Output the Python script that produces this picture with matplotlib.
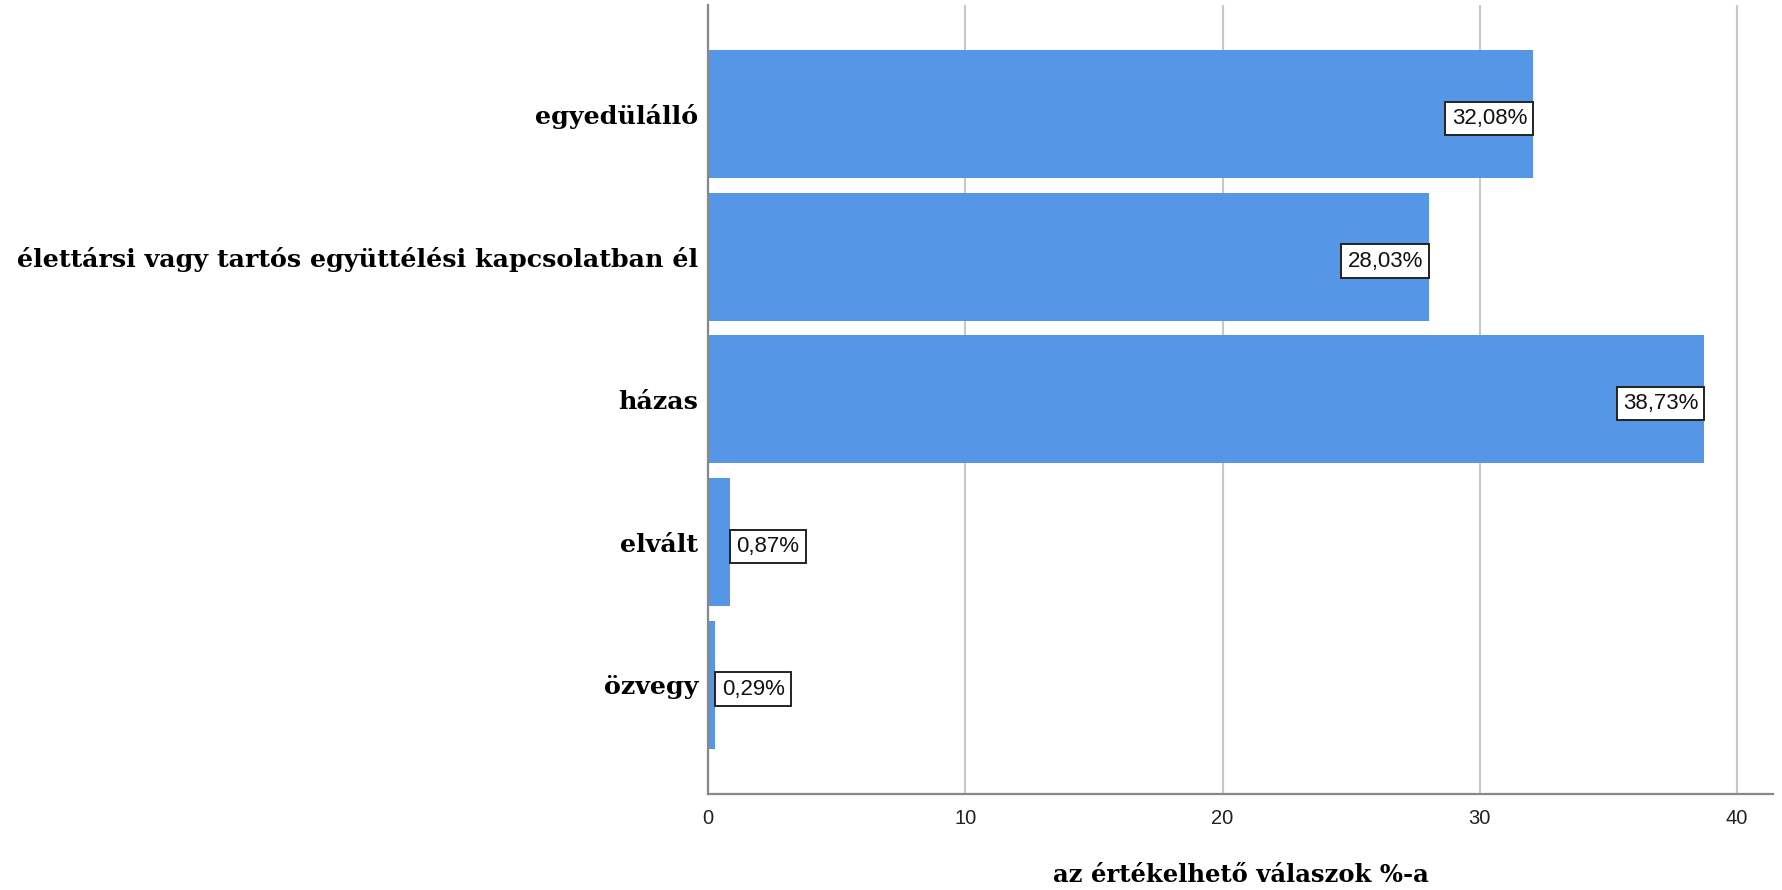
import matplotlib
matplotlib.use("Agg")
import matplotlib.pyplot as plt
import numpy as np

# data
categories = ["egyedülálló",
              "élettársi vagy tartós együttélési kapcsolatban él",
              "házas",
              "elvált",
              "özvegy"]
values = [32.08, 28.03, 38.73, 0.87, 0.29]
value_labels = ["32,08%", "28,03%", "38,73%", "0,87%", "0,29%"]
xticks = [0, 10, 20, 30, 40]

fig = plt.figure(figsize=(17.82, 8.90), dpi=100)
ax = fig.add_axes([0.3973, 0.1079, 0.5977, 0.8865])

y = np.arange(len(categories))
ax.barh(y, values, height=0.897, color="#5596e6", zorder=2)

ax.set_ylim(len(categories) - 1 + 0.765, -0.765)
ax.set_xlim(0, 41.4)

# value boxes: inside the bar end for long bars, outside for short ones
pad = 0.28
fs = 16
for yi, v, lab in zip(y, values, value_labels):
    if v > 5:
        ha, off = "right", -pad * fs
    else:
        ha, off = "left", pad * fs
    ax.annotate(lab, (v, yi + 0.03), xytext=(off, 0), textcoords="offset points",
                ha=ha, va="center", fontsize=fs, family="Liberation Sans",
                color="#111111", zorder=4,
                bbox=dict(boxstyle="square,pad=%.2f" % pad, fc="white", ec="#222222", lw=1.4))

ax.set_yticks(y)
ax.set_yticklabels(categories, family="DejaVu Serif", fontweight="bold", fontsize=18.3)
ax.set_xticks(xticks)
ax.set_xticklabels([str(t) for t in xticks], family="Liberation Sans", fontsize=14.5, color="#222222")
ax.tick_params(axis="both", length=0)
ax.tick_params(axis="y", pad=7)
ax.tick_params(axis="x", pad=11)

ax.grid(axis="x", color="#c8c8c8", lw=1.5, zorder=1)
ax.set_axisbelow(True)
for s in ["top", "right"]:
    ax.spines[s].set_visible(False)
for s in ["left", "bottom"]:
    ax.spines[s].set_color("#888888")
    ax.spines[s].set_linewidth(1.6)
    ax.spines[s].set_zorder(3)

ax.set_xlabel("az értékelhető válaszok %-a", family="DejaVu Serif",
              fontweight="bold", fontsize=17.5, labelpad=25)

fig.savefig("out.png", dpi=100)
